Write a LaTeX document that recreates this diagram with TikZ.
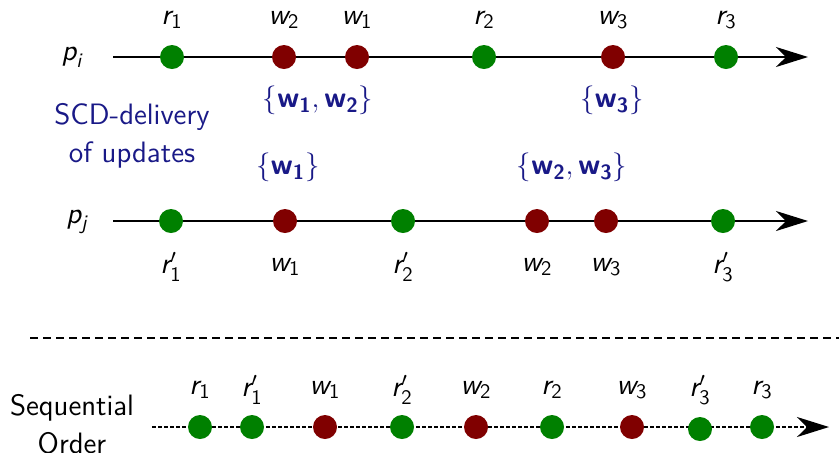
\documentclass[tikz,border=0pt]{standalone}
\usepackage{amsmath}
\usetikzlibrary{arrows.meta}

\definecolor{rd}{RGB}{128,0,0}
\definecolor{gr}{RGB}{0,128,0}
\definecolor{nv}{RGB}{25,25,135}

% operation labels in sans serif math
\newcommand{\sop}[2]{$\textsf{\itshape #1}_{\textsf{#2}}$}
\newcommand{\sopp}[2]{$\textsf{\itshape #1}'_{\textsf{#2}}$}
\newcommand{\bw}[1]{\textsf{\bfseries w}_{\textsf{\bfseries #1}}}

\tikzset{
  rdot/.style={circle,fill=rd,inner sep=0pt,minimum size=12pt},
  gdot/.style={circle,fill=gr,inner sep=0pt,minimum size=12pt},
  tline/.style={line width=1pt,-{Stealth[length=16pt,width=10pt,inset=5pt]}},
  sline/.style={line width=0.8pt,dash pattern=on 2pt off 1pt,-{Stealth[length=16pt,width=10pt,inset=5pt]}},
  txt/.style={inner sep=0pt,font=\sffamily},
  upd/.style={inner sep=0pt,text=nv,font=\sffamily},
}

\begin{document}
\fontsize{14.75}{18}\selectfont
\begin{tikzpicture}[x=0.5pt,y=-0.5pt]
\useasboundingbox (0,0) rectangle (839,452);

% process p_i
\node[txt] (pi) at (72,57) {$\textsf{\itshape p}_{\textsf{\itshape i}}$};
\coordinate (pis) at (113,57);
\coordinate (pie) at (808,57);
\draw[tline] (pis) -- (pie);
\node[gdot] (a1) at (172,57) {};
\node[rdot] (a2) at (284,57) {};
\node[rdot] (a3) at (357,57) {};
\node[gdot] (a4) at (484,57) {};
\node[rdot] (a5) at (613,57) {};
\node[gdot] (a6) at (726,57) {};
\node[txt] (la1) at (172,20) {\sop{r}{1}};
\node[txt] (la2) at (284,20) {\sop{w}{2}};
\node[txt] (la3) at (357,20) {\sop{w}{1}};
\node[txt] (la4) at (484,20) {\sop{r}{2}};
\node[txt] (la5) at (613,20) {\sop{w}{3}};
\node[txt] (la6) at (726,20) {\sop{r}{3}};
\node[upd] (ua1) at (318,100) {$\{\bw{1},\bw{2}\}$};
\node[upd] (ua2) at (612,100) {$\{\bw{3}\}$};

% delivery caption
\node[upd,align=center] (cap) at (132,136) {SCD-delivery\\[1pt]of updates};

% process p_j
\node[upd] (ub1) at (288,167) {$\{\bw{1}\}$};
\node[upd] (ub2) at (572,167) {$\{\bw{2},\bw{3}\}$};
\node[txt] (pj) at (77,222) {$\textsf{\itshape p}_{\textsf{\itshape j}}$};
\coordinate (pjs) at (113,221);
\coordinate (pje) at (808,221);
\draw[tline] (pjs) -- (pje);
\node[gdot] (b1) at (171,221) {};
\node[rdot] (b2) at (285,221) {};
\node[gdot] (b3) at (403,221) {};
\node[rdot] (b4) at (537,221) {};
\node[rdot] (b5) at (606,221) {};
\node[gdot] (b6) at (723,221) {};
\node[txt] (lb1) at (171,267) {\sopp{r}{1}};
\node[txt] (lb2) at (285,267) {\sop{w}{1}};
\node[txt] (lb3) at (403,267) {\sopp{r}{2}};
\node[txt] (lb4) at (537,267) {\sop{w}{2}};
\node[txt] (lb5) at (606,267) {\sop{w}{3}};
\node[txt] (lb6) at (723,267) {\sopp{r}{3}};

% separator
\coordinate (ds) at (30,338);
\coordinate (de) at (839,338);
\draw[line width=0.75pt,dash pattern=on 4pt off 2.5pt] (ds) -- (de);

% sequential order
\node[txt,align=center] (seq) at (72,424) {Sequential\\[1pt]Order};
\coordinate (ss) at (152,427);
\coordinate (se) at (829,427);
\draw[sline] (ss) -- (se);
\node[gdot] (c1) at (200,427) {};
\node[gdot] (c2) at (252,427) {};
\node[rdot] (c3) at (325,427) {};
\node[gdot] (c4) at (402,427) {};
\node[rdot] (c5) at (476,427) {};
\node[gdot] (c6) at (552,427) {};
\node[rdot] (c7) at (632,427) {};
\node[gdot] (c8) at (700,429) {};
\node[gdot] (c9) at (762,427) {};
\node[txt] (lc1) at (200,390) {\sop{r}{1}};
\node[txt] (lc2) at (252,390) {\sopp{r}{1}};
\node[txt] (lc3) at (325,390) {\sop{w}{1}};
\node[txt] (lc4) at (402,390) {\sopp{r}{2}};
\node[txt] (lc5) at (476,390) {\sop{w}{2}};
\node[txt] (lc6) at (552,390) {\sop{r}{2}};
\node[txt] (lc7) at (632,390) {\sop{w}{3}};
\node[txt] (lc8) at (700,390) {\sopp{r}{3}};
\node[txt] (lc9) at (762,390) {\sop{r}{3}};
\end{tikzpicture}
\end{document}
